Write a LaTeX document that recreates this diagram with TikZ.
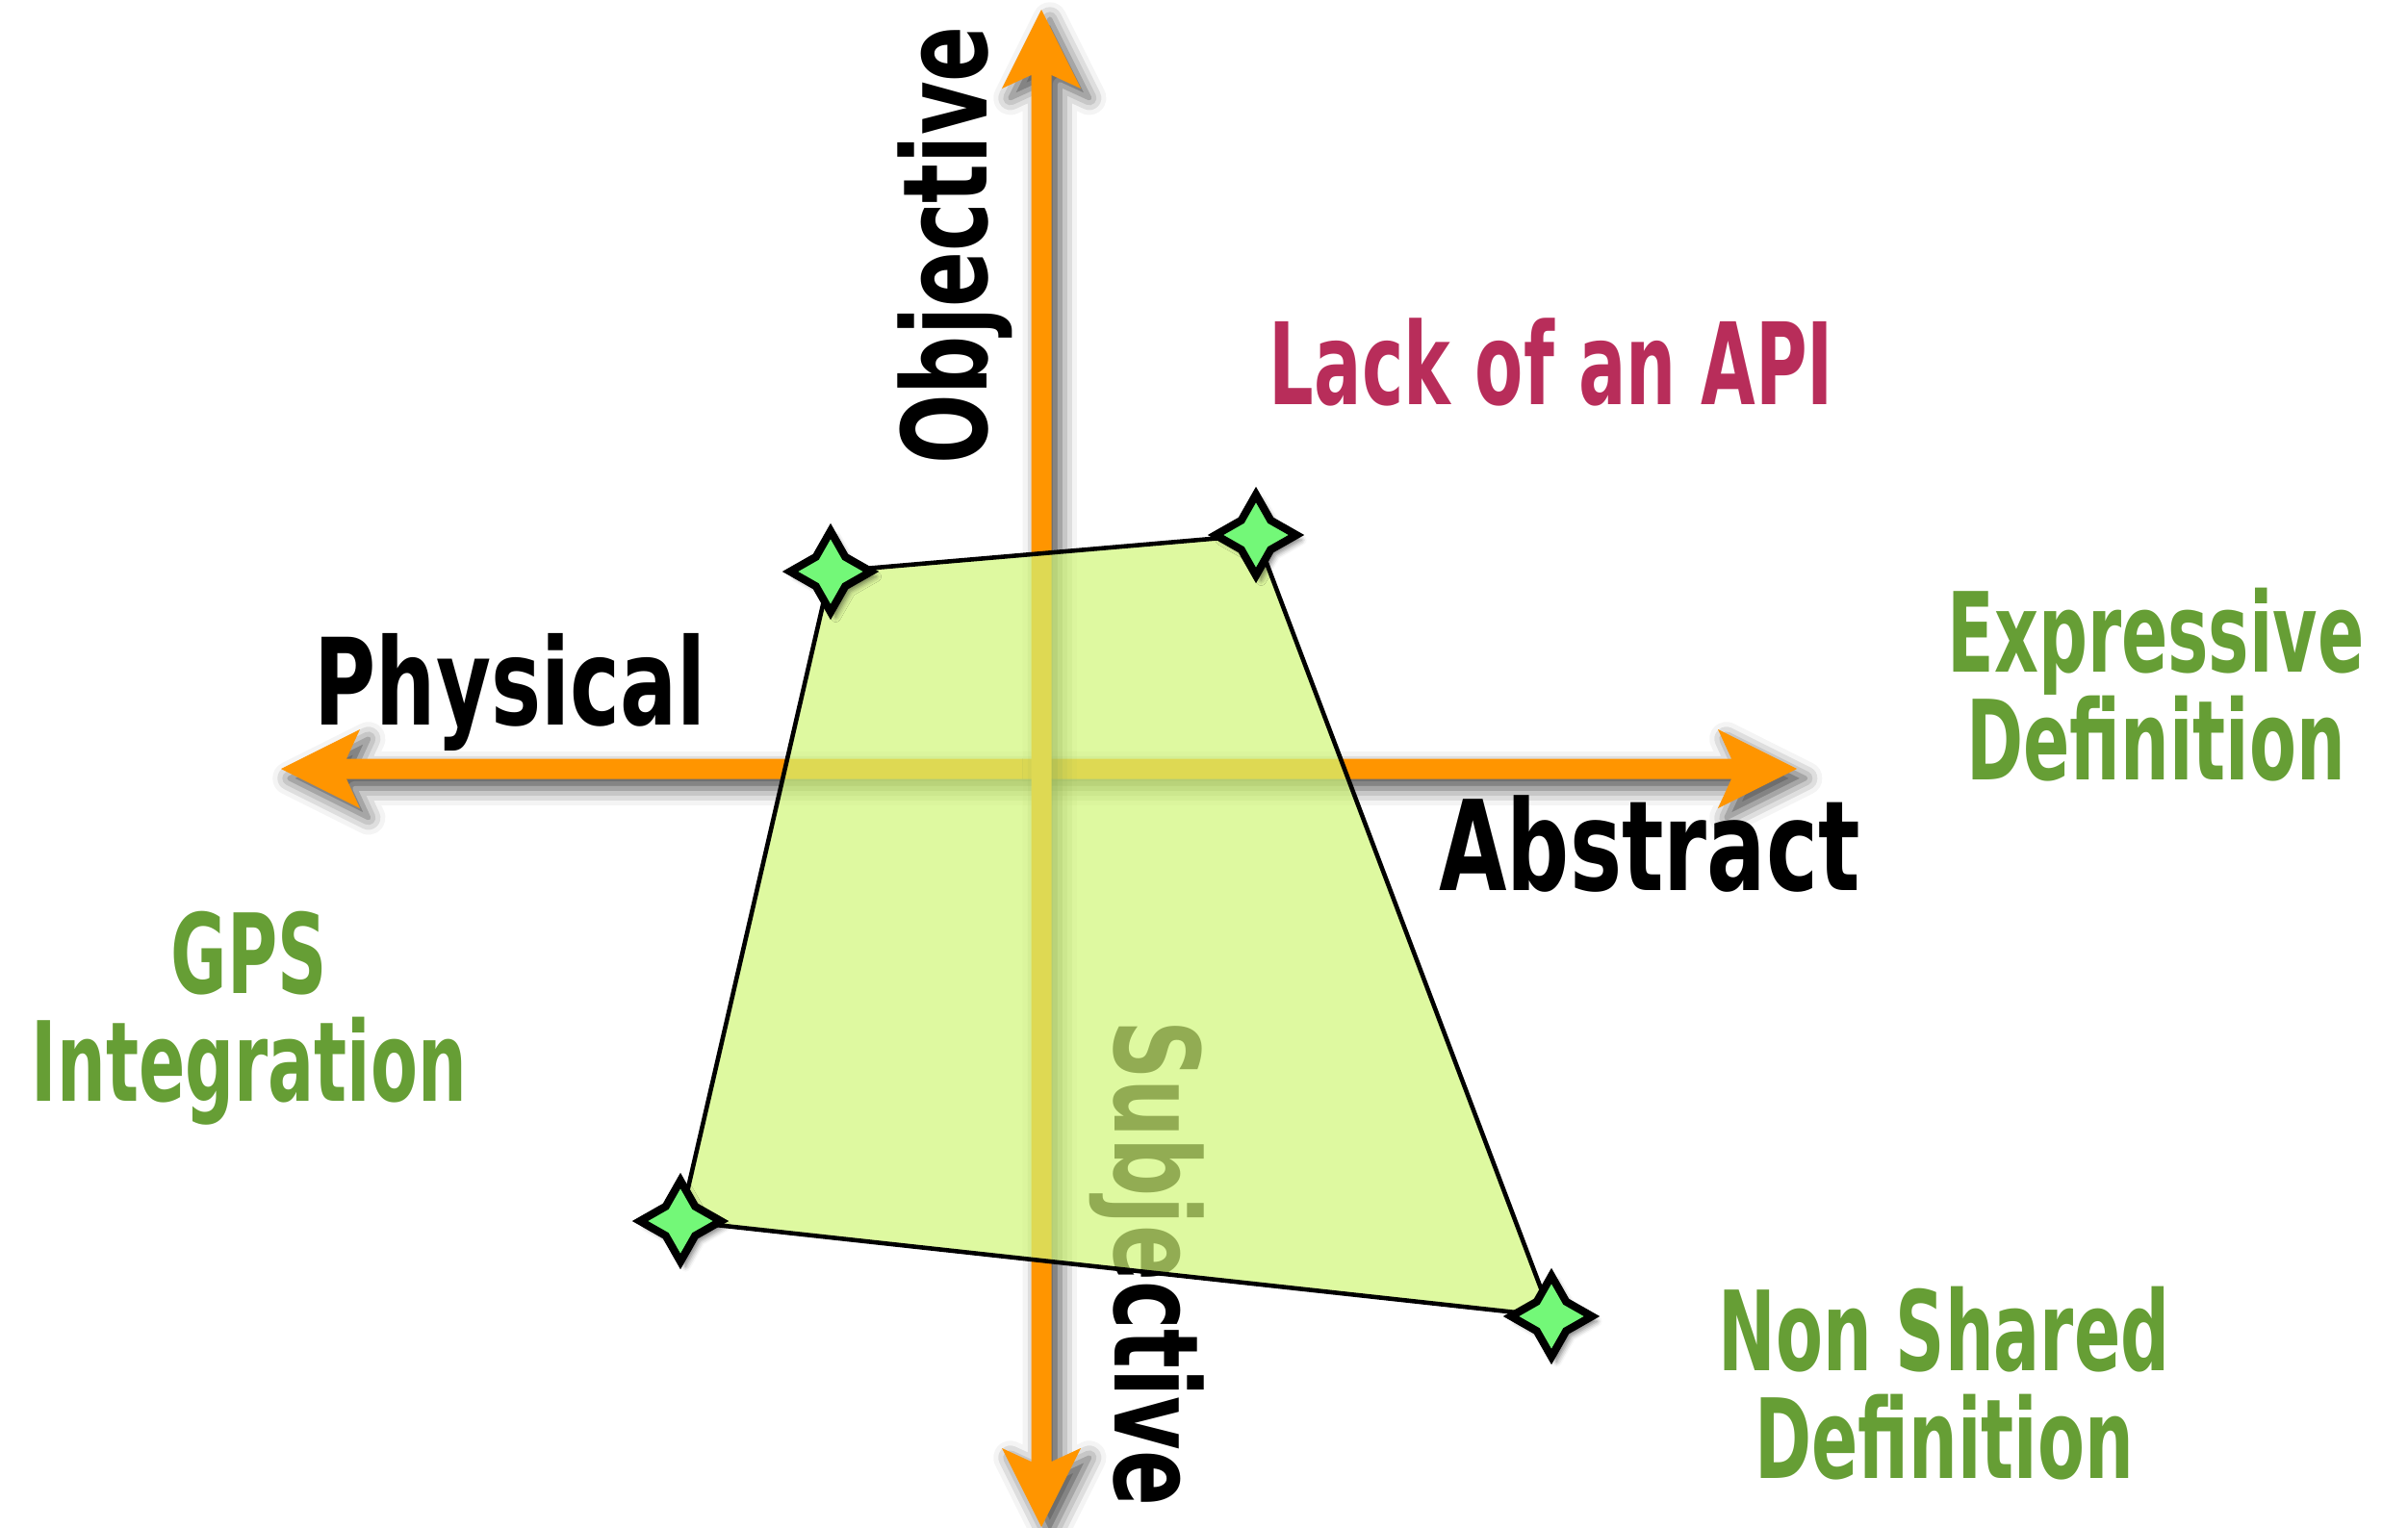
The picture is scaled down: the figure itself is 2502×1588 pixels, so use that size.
\documentclass[tikz,border=0pt]{standalone}
\usepackage{fontspec}
\newfontfamily\axisfont{DejaVu Sans Bold}[FakeStretch=0.70]
\newfontfamily\quadfont{DejaVu Sans Bold}[FakeStretch=0.62]
\usetikzlibrary{shapes.geometric}
\usetikzlibrary{shadows.blur}

\definecolor{axisorange}{RGB}{255,149,0}
\definecolor{quadgreen}{RGB}{208,246,119}
\definecolor{stargreen}{RGB}{115,248,120}
\definecolor{quadolive}{RGB}{102,158,53}
\definecolor{quadred}{RGB}{184,45,90}

\begin{document}
\begin{tikzpicture}[x=0.01cm, y=-0.01cm,
  axisarrow/.style={fill=axisorange,
    blur shadow={shadow xshift=2.5pt, shadow yshift=-2.8pt, shadow blur radius=5pt, shadow opacity=70}},
  axislabel/.style={inner sep=0pt, anchor=base, text=black},
  quadlabel/.style={inner sep=0pt, anchor=north, align=center, text=quadolive,
    font=\quadfont\fontsize{32.7}{31.9}\selectfont},
  vertexstar/.style={star, star points=4, star point ratio=1.95, minimum size=0.84cm,
    inner sep=0pt, draw=black, line width=2.3pt, fill=stargreen,
    blur shadow={shadow xshift=1.5pt, shadow yshift=-1.5pt, shadow blur radius=1.5pt, shadow opacity=50}}]
\useasboundingbox (0,0) rectangle (2502,1588);

% axes
\fill[axisarrow] (292,799) -- (374,758) -- (360,788.5) -- (1799,788.5) -- (1785,758)
  -- (1867,799) -- (1785,840) -- (1799,809.5) -- (360,809.5) -- (374,840) -- cycle;
\fill[axisarrow] (1082,10) -- (1123,92) -- (1092.5,78) -- (1092.5,1519) -- (1123,1505)
  -- (1082,1587) -- (1041,1505) -- (1071.5,1519) -- (1071.5,78) -- (1041,92) -- cycle;

\node[axislabel, rotate=90, font=\axisfont\fontsize{34.7}{40}\selectfont] (objective) at (1025,255) {Objective};
\node[axislabel, rotate=-90, font=\axisfont\fontsize{34.7}{40}\selectfont] (subjective) at (1158,1313) {Subjective};
\node[axislabel, font=\axisfont\fontsize{35.6}{40}\selectfont] (physical) at (530,753) {Physical};
\node[axislabel, font=\axisfont\fontsize{37}{42}\selectfont] (abstract) at (1714,925) {Abstract};

% quadrant notes
\node[axislabel, text=quadred, font=\quadfont\fontsize{33.6}{38}\selectfont] (api) at (1612,420) {Lack of an API};
\node[quadlabel] (expressive) at (2240,610) {Expressive\\Definition};
\node[quadlabel] (gps) at (259,946) {GPS\\Integration};
\node[quadlabel] (nonshared) at (2020,1336) {Non Shared\\Definition};

% the area
\coordinate (TL) at (863,594);
\coordinate (TR) at (1305,556);
\coordinate (BR) at (1612,1368);
\coordinate (BL) at (707,1269);
\draw[line width=1.3pt, fill=quadgreen, fill opacity=0.7] (TL) -- (TR) -- (BR) -- (BL) -- cycle;

\node[vertexstar] (starTL) at (TL) {};
\node[vertexstar] (starTR) at (TR) {};
\node[vertexstar] (starBR) at (BR) {};
\node[vertexstar] (starBL) at (BL) {};
\end{tikzpicture}
\end{document}
